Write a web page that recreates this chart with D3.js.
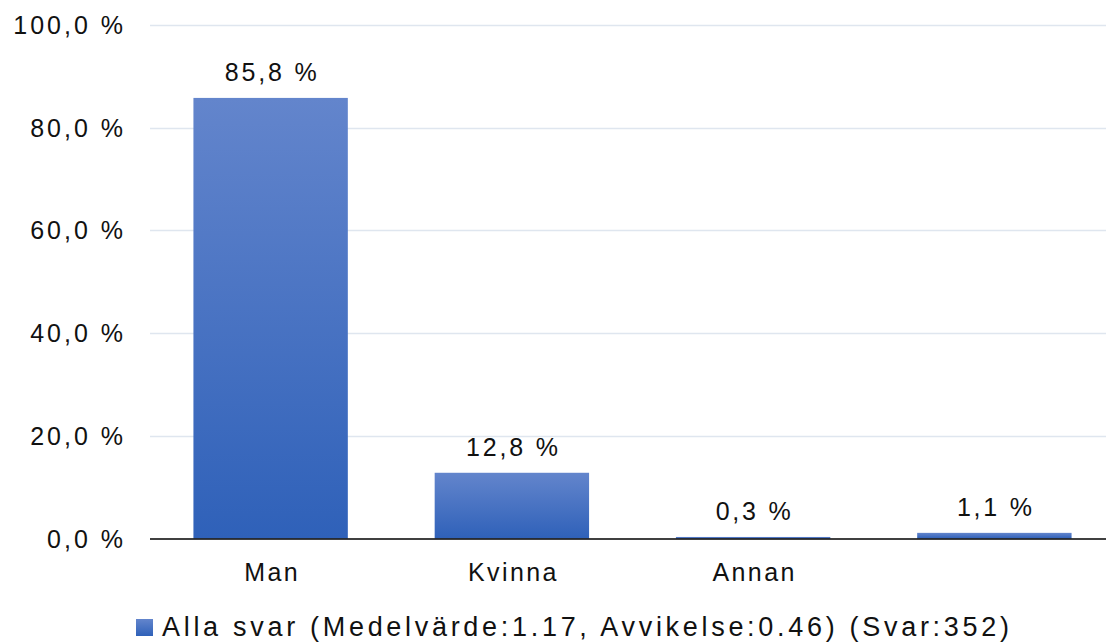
<!DOCTYPE html>
<html>
<head>
<meta charset="utf-8">
<script src="https://cdn.jsdelivr.net/npm/d3@7"></script>
<style>
  body { margin: 0; background: #fff; }
  text { font-family: "Liberation Sans", Arial, sans-serif; fill: #111; }
</style>
</head>
<body>
<div class="plot"></div>
<script>
var categories = ['Man', 'Kvinna', 'Annan', ''];
var values = [85.8, 12.8, 0.3, 1.1];
var yTicks = [0, 20, 40, 60, 80, 100];
var legendLabel = 'Alla svar (Medelvärde:1.17, Avvikelse:0.46) (Svar:352)';

var W = 1106, H = 642;
var m = {t:25, r:-9, b:103.5, l:150},
    w = W - m.l - m.r,
    h = H - m.t - m.b;

var fmt = function(v){ return d3.format('.1f')(v).replace('.', ',') + ' %'; };

var svg = d3.select('.plot')
    .append('svg')
    .attr('width', W)
    .attr('height', H);

var defs = svg.append('defs');
var grad = defs.append('linearGradient')
    .attr('id', 'barGrad')
    .attr('x1', 0).attr('y1', 0).attr('x2', 0).attr('y2', 1);
grad.append('stop').attr('offset', '0%').attr('stop-color', '#6385cc');
grad.append('stop').attr('offset', '100%').attr('stop-color', '#2f61b9');

var x = d3.scaleBand()
    .domain(categories.map(function(d,i){ return i; }))
    .range([0, w])
    .paddingInner(0.36)
    .paddingOuter(0.18);

var y = d3.scaleLinear()
    .domain([0, 100])
    .range([h, 0]);

var g = svg.append('g')
    .attr('transform', 'translate(' + m.l + ',' + m.t + ')');

// gridlines
g.selectAll('.grid')
    .data(yTicks.filter(function(d){ return d > 0; }))
    .enter()
    .append('line')
    .attr('x1', 0).attr('x2', w)
    .attr('y1', function(d){ return Math.round(y(d)) + 0.5; })
    .attr('y2', function(d){ return Math.round(y(d)) + 0.5; })
    .style('stroke', '#dfe6ef')
    .style('stroke-width', 1.5);

// y axis labels
g.selectAll('.ylab')
    .data(yTicks)
    .enter()
    .append('text')
    .attr('x', -24)
    .attr('y', function(d){ return y(d) + 9; })
    .attr('text-anchor', 'end')
    .style('font-size', '25px')
    .style('letter-spacing', '3px')
    .text(fmt);

// bars
g.selectAll('.bar')
    .data(values)
    .enter()
    .append('rect')
    .attr('x', function(d,i){ return x(i); })
    .attr('width', x.bandwidth())
    .attr('y', function(d){ return y(d); })
    .attr('height', function(d){ return h - y(d); })
    .style('fill', 'url(#barGrad)');

// value labels
g.selectAll('.val')
    .data(values)
    .enter()
    .append('text')
    .attr('x', function(d,i){ return x(i) + x.bandwidth()/2 + 1.5; })
    .attr('y', function(d){ return y(d) - 17; })
    .attr('text-anchor', 'middle')
    .style('font-size', '25px')
    .style('letter-spacing', '2.8px')
    .text(fmt);

// baseline
g.append('line')
    .attr('x1', 0).attr('x2', w)
    .attr('y1', h + 0.5).attr('y2', h + 0.5)
    .style('stroke', '#000')
    .style('stroke-width', 1.5);

// category labels
g.selectAll('.cat')
    .data(categories)
    .enter()
    .append('text')
    .attr('x', function(d,i){ return x(i) + x.bandwidth()/2 + 1.5; })
    .attr('y', h + 42)
    .attr('text-anchor', 'middle')
    .style('font-size', '25px')
    .style('letter-spacing', '2.4px')
    .text(function(d){ return d; });

// legend
var lg = svg.append('g').attr('transform', 'translate(136,619)');
lg.append('rect')
    .attr('width', 17).attr('height', 17)
    .style('fill', 'url(#barGrad)');
lg.append('text')
    .attr('x', 26)
    .attr('y', 17)
    .style('font-size', '27px')
    .style('letter-spacing', '3.7px')
    .text(legendLabel);
</script>
</body>
</html>
